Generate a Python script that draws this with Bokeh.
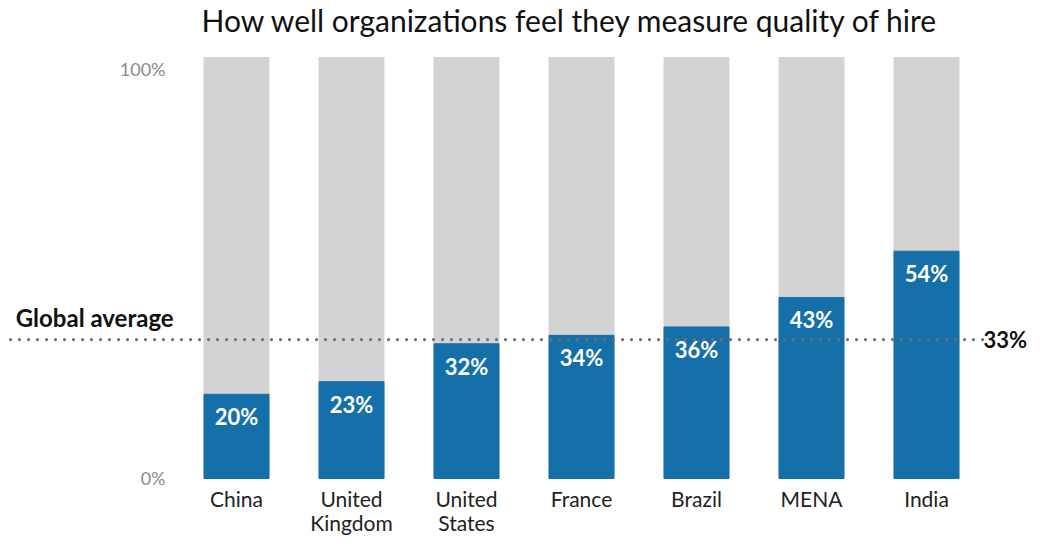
from bokeh.plotting import figure
from bokeh.models import ColumnDataSource
from bokeh.core.properties import value
from bokeh.embed import file_html
from bokeh.resources import INLINE

categories = ["China", "United\nKingdom", "United\nStates", "France", "Brazil", "MENA", "India"]
values = [0.20, 0.23, 0.32, 0.34, 0.36, 0.43, 0.54]
labels = ["20%", "23%", "32%", "34%", "36%", "43%", "54%"]
global_avg = 0.33
global_label = "33%"
global_text = "Global average"
y_ticks = [0, 1]
y_tick_labels = ["0%", "100%"]
title = "How well organizations feel they measure quality of hire"

FONT = "Lato"
BLUE = "#1570AA"
GRAY = "#D3D3D3"

xs = list(range(len(categories)))
src = ColumnDataSource(dict(x=xs, v=values, lab=labels, cat=categories,
                            full=[1.0] * len(xs), zero=[0.0] * len(xs)))

p = figure(width=1027, height=543, output_backend="svg", toolbar_location=None,
           x_range=(-2.0522, 6.8783), y_range=(-0.1544, 1.1354),
           min_border_left=0, min_border_right=0, min_border_top=0, min_border_bottom=0)
p.outline_line_color = None
p.grid.visible = False
p.axis.visible = False

p.vbar(x="x", top="full", bottom=0, width=0.565, color=GRAY, source=src)
p.vbar(x="x", top="v", bottom=0, width=0.565, color=BLUE, source=src)
p.text(x="x", y="v", text="lab", source=src, text_color="white", text_font=value(FONT),
       text_font_style="bold", text_font_size="22px", text_align="center",
       text_baseline="top", y_offset=9)

# category labels (below bars)
p.text(x="x", y="zero", text="cat", source=src, text_color="#222222", text_font=value(FONT),
       text_font_size="21px", text_align="center", text_baseline="top", y_offset=8,
       text_line_height=0.95)

# y tick labels
p.text(x=[-0.617], y=[y_ticks[1]], text=[y_tick_labels[1]], text_color="#8a8a8a",
       text_font=value(FONT), text_font_size="18px", text_align="right", text_baseline="top", y_offset=0)
p.text(x=[-0.617], y=[y_ticks[0]], text=[y_tick_labels[0]], text_color="#8a8a8a",
       text_font=value(FONT), text_font_size="18px", text_align="right", text_baseline="middle")

# global average dotted line
p.segment(x0=[-1.965], x1=[6.513], y0=[global_avg], y1=[global_avg], line_color="#707070",
          line_width=3.2, line_dash="0 9", line_cap="round")
p.text(x=[-1.92], y=[global_avg], text=[global_text], text_font=value(FONT),
       text_font_style="bold", text_font_size="24px", text_color="#111111",
       text_baseline="middle", y_offset=-22)
p.text(x=[6.875], y=[global_avg], text=[global_label], text_font=value(FONT),
       text_font_style="bold", text_font_size="22px", text_color="#111111",
       text_align="right", text_baseline="middle")

# title
p.text(x=[2.904], y=[1.0879], text=[title], text_font=value(FONT), text_font_size="30px",
       text_color="#111111", text_align="center", text_baseline="middle")

open("out.html", "w").write(file_html(p, INLINE))
